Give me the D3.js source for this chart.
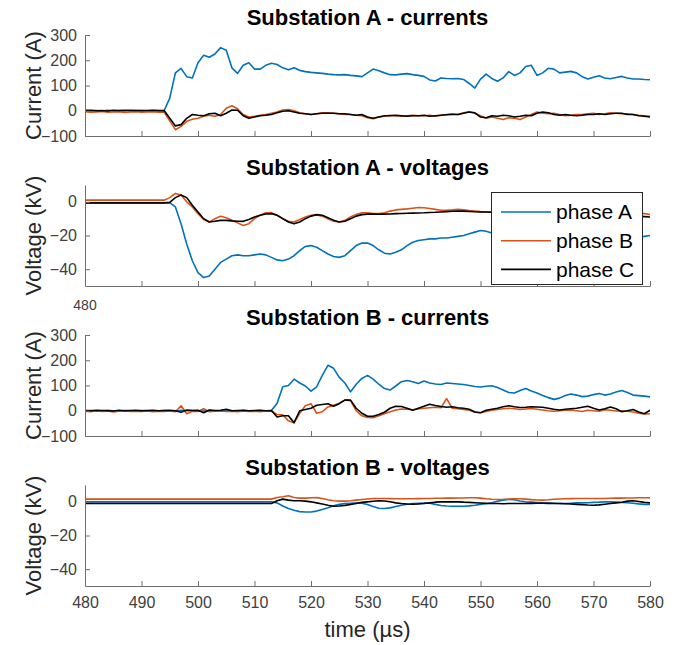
<!DOCTYPE html>
<html>
<head>
<meta charset="utf-8">
<script src="https://cdn.jsdelivr.net/npm/d3@7"></script>
<style>
  body { margin: 0; background: #fff; }
  text { font-family: "Liberation Sans", Arial, sans-serif; }
</style>
</head>
<body>
<div id="chart"></div>
<script>
(function(d3) {

// time axis, 1 us steps
var time = d3.range(480, 581, 1);
var timeTicks = [480, 490, 500, 510, 520, 530, 540, 550, 560, 570, 580];
var currentTicks = [-100, 0, 100, 200, 300];
var voltageTicks = [-40, -20, 0];

var phaseNames = ['phase A', 'phase B', 'phase C'];

// Substation A - currents (A)
var subACurrA = [
  2, 0, 1, -1, 2, 0, 1, 3, 0, 1,
  2, 0, 1, 2, 0, 50, 150, 168, 135, 130,
  190, 220, 212, 225, 250, 240, 170, 148, 180, 190,
  165, 165, 180, 188, 183, 170, 162, 170, 160, 155,
  152, 150, 148, 145, 143, 142, 143, 140, 138, 135,
  150, 165, 158, 150, 143, 142, 145, 147, 143, 140,
  136, 122, 118, 130, 128, 127, 128, 124, 108, 90,
  125, 145, 128, 117, 130, 155, 140, 150, 175, 180,
  140, 150, 168, 165, 150, 153, 156, 150, 135, 126,
  133, 139, 130, 127, 132, 136, 130, 126, 126, 124,
  123];
var subACurrB = [
  -4, -6, -5, -3, -6, -5, -4, -7, -5, -4,
  -6, -5, -4, -6, -5, -40, -75, -62, -42, -34,
  -30, -22, -18, -22, -15, 10, 20, 8, -15, -25,
  -22, -18, -15, -10, -5, 3, 5, 0, -8, -12,
  -15, -12, -8, -8, -10, -12, -15, -15, -18, -20,
  -28, -32, -25, -22, -18, -20, -22, -20, -18, -20,
  -20, -18, -22, -18, -15, -12, -15, -8, -4, -10,
  -20, -30, -25, -30, -35, -28, -30, -35, -25, -15,
  -5, -10, -12, -10, -15, -20, -18, -15, -15, -12,
  -10, -15, -12, -8, -10, -12, -12, -15, -18, -20,
  -22];
var subACurrC = [
  1, 2, 0, 1, -1, 2, 1, 0, 2, 1,
  0, 1, 2, 0, 1, -30, -60, -55, -30, -15,
  -18, -20, -12, -10, -20, -10, 3, 2, -20, -30,
  -25, -20, -18, -15, -8, -2, 0, -5, -10, -12,
  -15, -12, -10, -10, -10, -12, -12, -15, -18, -15,
  -25, -30, -25, -20, -20, -18, -20, -22, -20, -20,
  -18, -22, -20, -18, -16, -15, -15, -10, -5, -8,
  -25, -28, -20, -22, -18, -20, -25, -22, -18, -20,
  -10, -5, -8, -15, -18, -15, -18, -20, -18, -15,
  -15, -12, -15, -12, -10, -10, -15, -15, -20, -22,
  -25];

// Substation A - voltages (kV)
var subAVoltA = [
  -0.6, -0.6, -0.6, -0.6, -0.6, -0.6, -0.6, -0.6, -0.6, -0.6,
  -0.6, -0.6, -0.6, -0.6, -0.6, -0.5, -3, -13, -25, -35,
  -42, -45, -44, -40, -36, -34, -32, -31.5, -32, -32,
  -31.5, -31, -31.5, -33, -34.5, -35, -34, -32, -29, -26.5,
  -26, -27, -29, -31, -32.5, -33, -32, -29, -26, -24.5,
  -24.5, -26, -28.5, -30.5, -31, -30, -28.5, -26, -24, -23,
  -22.5, -22, -22, -21.5, -21.5, -21, -20.5, -20, -19, -18,
  -17, -17.5, -18.5, -19, -19, -19.5, -20, -20, -19.5, -19,
  -18.5, -18.5, -19, -19.5, -20, -20.5, -21, -21, -20.5, -20,
  -20, -20.5, -21, -21.5, -22, -22, -21.5, -21, -21, -20.5,
  -20];
var subAVoltB = [
  1, 1, 1, 1, 1, 1, 1, 1, 1, 1,
  1, 1, 1, 1, 1, 2.5, 5, 4, 0, -3,
  -7, -10.5, -12, -10, -8.5, -9.5, -11, -12.5, -14, -13,
  -10, -8, -6.5, -6.5, -8, -10, -11.5, -12, -10.5, -9,
  -8, -7.8, -8.5, -10, -11.5, -12, -11, -9, -7.5, -6.5,
  -6.5, -7, -7, -6.5, -5.5, -4.8, -4.5, -4.2, -3.8, -3.4,
  -3.5, -4, -4.5, -5, -5, -4.8, -4.5, -4.8, -5.2, -5.5,
  -5.8, -6, -6, -6, -5.5, -5.5, -5, -5, -5.5, -6,
  -6, -6, -5.5, -5.5, -6, -6, -6.5, -6.5, -6, -6,
  -6, -6.5, -6.5, -6.5, -6.5, -6.5, -6.5, -6.5, -6.5, -7,
  -7.5];
var subAVoltC = [
  -0.6, -0.6, -0.6, -0.6, -0.6, -0.6, -0.6, -0.6, -0.6, -0.6,
  -0.6, -0.6, -0.6, -0.6, -0.6, -0.3, 2.5, 4, 2.5, -2,
  -6, -10, -12, -11.5, -11, -11, -11.3, -11.5, -11.6, -10.5,
  -9, -8, -7.2, -7, -8, -10, -12, -13, -12, -10,
  -8.5, -7.6, -8, -9.5, -11, -12, -11.5, -10, -8.5, -7.6,
  -7.3, -7.3, -7.4, -7.3, -7.2, -7, -6.9, -6.8, -6.7, -6.6,
  -6.5, -6.3, -6.2, -6, -5.8, -5.6, -5.5, -5.5, -5.7, -5.9,
  -6, -6, -6.2, -6.3, -6.4, -6.5, -6.6, -6.7, -6.8, -6.9,
  -7, -7, -7.1, -7.2, -7.3, -7.4, -7.5, -7.6, -7.7, -7.8,
  -7.9, -8, -8, -8.1, -8.2, -8.3, -8.4, -8.5, -8.6, -8.8,
  -9];

// Substation B - currents (A)
var subBCurrA = [
  0, 1, -1, 0, 2, 0, -1, 1, 0, 0,
  1, 0, -2, 0, 1, 0, -1, 2, 0, 1,
  0, -1, 1, 0, 0, 2, 0, -1, 1, 0,
  0, 1, -1, 1, 30, 95, 100, 125, 110, 98,
  78, 95, 140, 180, 168, 132, 110, 75, 105, 128,
  140, 125, 105, 88, 82, 98, 115, 120, 115, 108,
  118, 110, 106, 104, 110, 108, 106, 104, 100, 96,
  94, 97, 99, 92, 82, 72, 70, 80, 88, 78,
  70, 60, 52, 45, 50, 60, 66, 62, 56, 58,
  64, 68, 62, 66, 74, 80, 72, 62, 60, 58,
  55];
var subBCurrB = [
  -2, -4, 0, -3, -1, -5, -2, 0, -3, -2,
  -3, -1, -4, -2, -3, -1, -4, 20, -12, -2,
  -3, 8, -4, -2, -1, -3, -2, -4, -1, -3,
  -2, -4, -1, -2, -15, -16, -40, -48, -10, 20,
  28, -10, -4, 15, 22, 30, 43, 40, 0, -20,
  -27, -28, -20, -12, -4, 3, 7, 6, 4, 7,
  10, 12, 14, 12, 48, 10, 8, 5, 2, -5,
  -8, -3, 2, 5, 8, 10, 8, 5, 7, 9,
  6, 3, 0, -2, 0, 2, 3, 0, -3, 2,
  0, -2, 4, 2, -1, 0, -2, -5, -10, -13,
  -12];
var subBCurrC = [
  1, 0, 2, 1, 0, -1, 2, 0, 1, 2,
  0, 1, 2, 0, 1, 2, 0, -6, 3, 1,
  2, -8, 3, 1, 2, 6, 0, 1, 2, 0,
  1, 2, 0, 1, -25, -20, -20, -47, 0, 5,
  10, 22, 25, 28, 18, 28, 42, 42, 10, -10,
  -22, -22, -15, -6, 10, 18, 17, 10, 2, 10,
  18, 26, 21, 17, 14, 16, 12, 10, 6, -5,
  -8, 2, 6, 10, 16, 20, 16, 13, 14, 16,
  15, 14, 10, 6, 3, 6, 8, 10, 14, 18,
  10, 3, 8, 15, 8, -4, 0, 5, -5, -12,
  2];

// Substation B - voltages (kV)
var subBVoltA = [
  0, 0, 0, 0, 0, 0, 0, 0, 0, 0,
  0, 0, 0, 0, 0, 0, 0, 0, 0, 0,
  0, 0, 0, 0, 0, 0, 0, 0, 0, 0,
  0, 0, 0, 0, -0.6, -2.5, -4, -5, -5.8, -6,
  -6, -5.5, -4.5, -3.5, -2.3, -1.5, -1, -0.8, -0.6, -0.8,
  -1.6, -2.8, -3.8, -4, -3.6, -2.8, -2, -1.4, -1, -0.8,
  -0.7, -0.8, -1.5, -2.2, -2.5, -2.6, -2.6, -2.6, -2.4, -2,
  -1.5, -1, -0.5, 0.3, 1, 1.4, 1.2, 0.5, 0, -0.2,
  -0.4, -0.6, -0.7, -0.8, -1, -1, -0.8, -0.6, -0.6, -0.5,
  -0.3, -0.2, 0, 0, -0.2, -0.4, -0.5, -0.8, -1.2, -1.5,
  -1.6];
var subBVoltB = [
  1.6, 1.6, 1.6, 1.6, 1.6, 1.6, 1.6, 1.6, 1.6, 1.6,
  1.6, 1.6, 1.6, 1.6, 1.6, 1.6, 1.6, 1.6, 1.6, 1.6,
  1.6, 1.6, 1.6, 1.6, 1.6, 1.6, 1.6, 1.6, 1.6, 1.6,
  1.6, 1.6, 1.6, 1.6, 2.6, 3, 3.6, 2.6, 2.2, 2.2,
  2.4, 2.5, 2, 1.2, 0.6, 0.4, 0.4, 0.6, 1, 1.4,
  1.7, 2, 2, 2, 1.9, 1.8, 1.8, 1.8, 1.8, 1.9,
  2, 2, 2.1, 2.1, 2.2, 2.2, 2.3, 2.3, 2.4, 2.4,
  2.2, 1.8, 1.5, 1.4, 1.5, 1.7, 1.8, 1.8, 1.6, 1.3,
  1.1, 1, 1.2, 1.5, 1.7, 1.8, 1.9, 2, 2, 2,
  2, 2, 2, 2.1, 2.2, 2.2, 2.3, 2.3, 2.4, 2.4,
  2.4];
var subBVoltC = [
  -1, -1, -1, -1, -1, -1, -1, -1, -1, -1,
  -1, -1, -1, -1, -1, -1, -1, -1, -1, -1,
  -1, -1, -1, -1, -1, -1, -1, -1, -1, -1,
  -1, -1, -1, -1, 0.6, 1.6, 1, 0.6, 0.6, 0.4,
  0, -0.6, -1.3, -2, -2.6, -2.5, -2.1, -1.6, -1, -0.3,
  0, 0.3, 0.6, 0.5, 0, -0.6, -1, -1.3, -1.4, -1.3,
  -1, -0.6, -0.2, 0, 0, 0, 0, -0.2, -0.3, -0.5,
  -0.7, -0.9, -1, -1, -1.1, -1, -1, -1, -1, -0.9,
  -0.8, -0.8, -0.9, -1, -1, -1.1, -1.3, -1.5, -1.7, -1.9,
  -2, -1.8, -1.4, -1, -0.6, -0.2, 0.4, 0.6, 0.2, -0.3,
  -0.6];

var panels = [
  { title: 'Substation A - currents', ylabel: 'Current (A)', domain: [-100, 300], ticks: currentTicks,
    series: [subACurrA, subACurrB, subACurrC] },
  { title: 'Substation A - voltages', ylabel: 'Voltage (kV)', domain: [-50, 10], ticks: voltageTicks,
    series: [subAVoltA, subAVoltB, subAVoltC] },
  { title: 'Substation B - currents', ylabel: 'Current (A)', domain: [-100, 300], ticks: currentTicks,
    series: [subBCurrA, subBCurrB, subBCurrC] },
  { title: 'Substation B - voltages', ylabel: 'Voltage (kV)', domain: [-50, 10], ticks: voltageTicks,
    series: [subBVoltA, subBVoltB, subBVoltC] }
];

var colors = ['#0072BD', '#D95319', '#000000'];

var width = 682,
    height = 645,
    left = 85,
    plotW = 565,
    plotH = 101,
    tops = [35, 185, 335, 485];

var svg = d3.select('#chart')
  .append('svg')
  .attr('width', width)
  .attr('height', height);

var x = d3.scaleLinear().domain([480, 580]).range([left, left + plotW]);

panels.forEach(function(p, i) {
  var top = tops[i];
  var y = d3.scaleLinear().domain(p.domain).range([top + plotH, top]);

  svg.append('clipPath').attr('id', 'clip' + i)
    .append('rect')
    .attr('x', left).attr('y', top)
    .attr('width', plotW).attr('height', plotH);

  var line = d3.line()
    .x(function(d, j) { return x(time[j]); })
    .y(function(d) { return y(d); });

  var g = svg.append('g').attr('clip-path', 'url(#clip' + i + ')');
  p.series.forEach(function(s, k) {
    g.append('path')
      .datum(s)
      .attr('d', line)
      .attr('fill', 'none')
      .attr('stroke', colors[k])
      .attr('stroke-width', 1.6)
      .attr('stroke-linejoin', 'round');
  });

  // axes (MATLAB style: ticks point inward)
  var xAxis = d3.axisBottom(x)
    .tickValues(timeTicks)
    .tickSizeInner(-5)
    .tickSizeOuter(0)
    .tickPadding(11);
  if (i < 3) xAxis.tickFormat('');

  var yAxis = d3.axisLeft(y)
    .tickValues(p.ticks)
    .tickSizeInner(-5)
    .tickSizeOuter(0)
    .tickPadding(8);

  [svg.append('g').attr('transform', 'translate(0,' + (top + plotH) + ')').call(xAxis),
   svg.append('g').attr('transform', 'translate(' + left + ',0)').call(yAxis)]
    .forEach(function(a) {
      a.selectAll('path, line').attr('stroke', '#6e6e6e');
      a.selectAll('text')
        .attr('fill', '#404040')
        .style('font-size', '16px')
        .style('font-family', '"Liberation Sans", Arial, sans-serif');
    });

  svg.append('text')
    .attr('x', left + plotW / 2)
    .attr('y', top - 10)
    .attr('text-anchor', 'middle')
    .style('font-size', '22px')
    .style('font-weight', 'bold')
    .attr('fill', '#000')
    .text(p.title);

  svg.append('text')
    .attr('transform', 'translate(41,' + (top + plotH / 2) + ') rotate(-90)')
    .attr('text-anchor', 'middle')
    .style('font-size', '22px')
    .attr('fill', '#262626')
    .text(p.ylabel);

  // legend in the second panel
  if (i === 1) {
    var lg = svg.append('g');
    lg.append('rect')
      .attr('x', 491.5).attr('y', 192.5)
      .attr('width', 151).attr('height', 92)
      .attr('fill', '#fff')
      .attr('stroke', '#262626')
      .attr('stroke-width', 1);
    phaseNames.forEach(function(name, k) {
      var ly = 212 + k * 28.7;
      lg.append('line')
        .attr('x1', 501).attr('x2', 551)
        .attr('y1', ly).attr('y2', ly)
        .attr('stroke', colors[k])
        .attr('stroke-width', 1.6);
      lg.append('text')
        .attr('x', 556).attr('y', ly)
        .attr('dy', '0.35em')
        .style('font-size', '21px')
        .attr('fill', '#000')
        .text(name);
    });
  }
});

// stray tick label left in the figure
svg.append('text')
  .attr('x', left).attr('y', 310)
  .attr('text-anchor', 'middle')
  .style('font-size', '14px')
  .attr('fill', '#404040')
  .text('480');

svg.append('text')
  .attr('x', left + plotW / 2)
  .attr('y', 637)
  .attr('text-anchor', 'middle')
  .style('font-size', '22px')
  .attr('fill', '#262626')
  .text('time (\u00b5s)');

})(window.d3);
</script>
</body>
</html>
